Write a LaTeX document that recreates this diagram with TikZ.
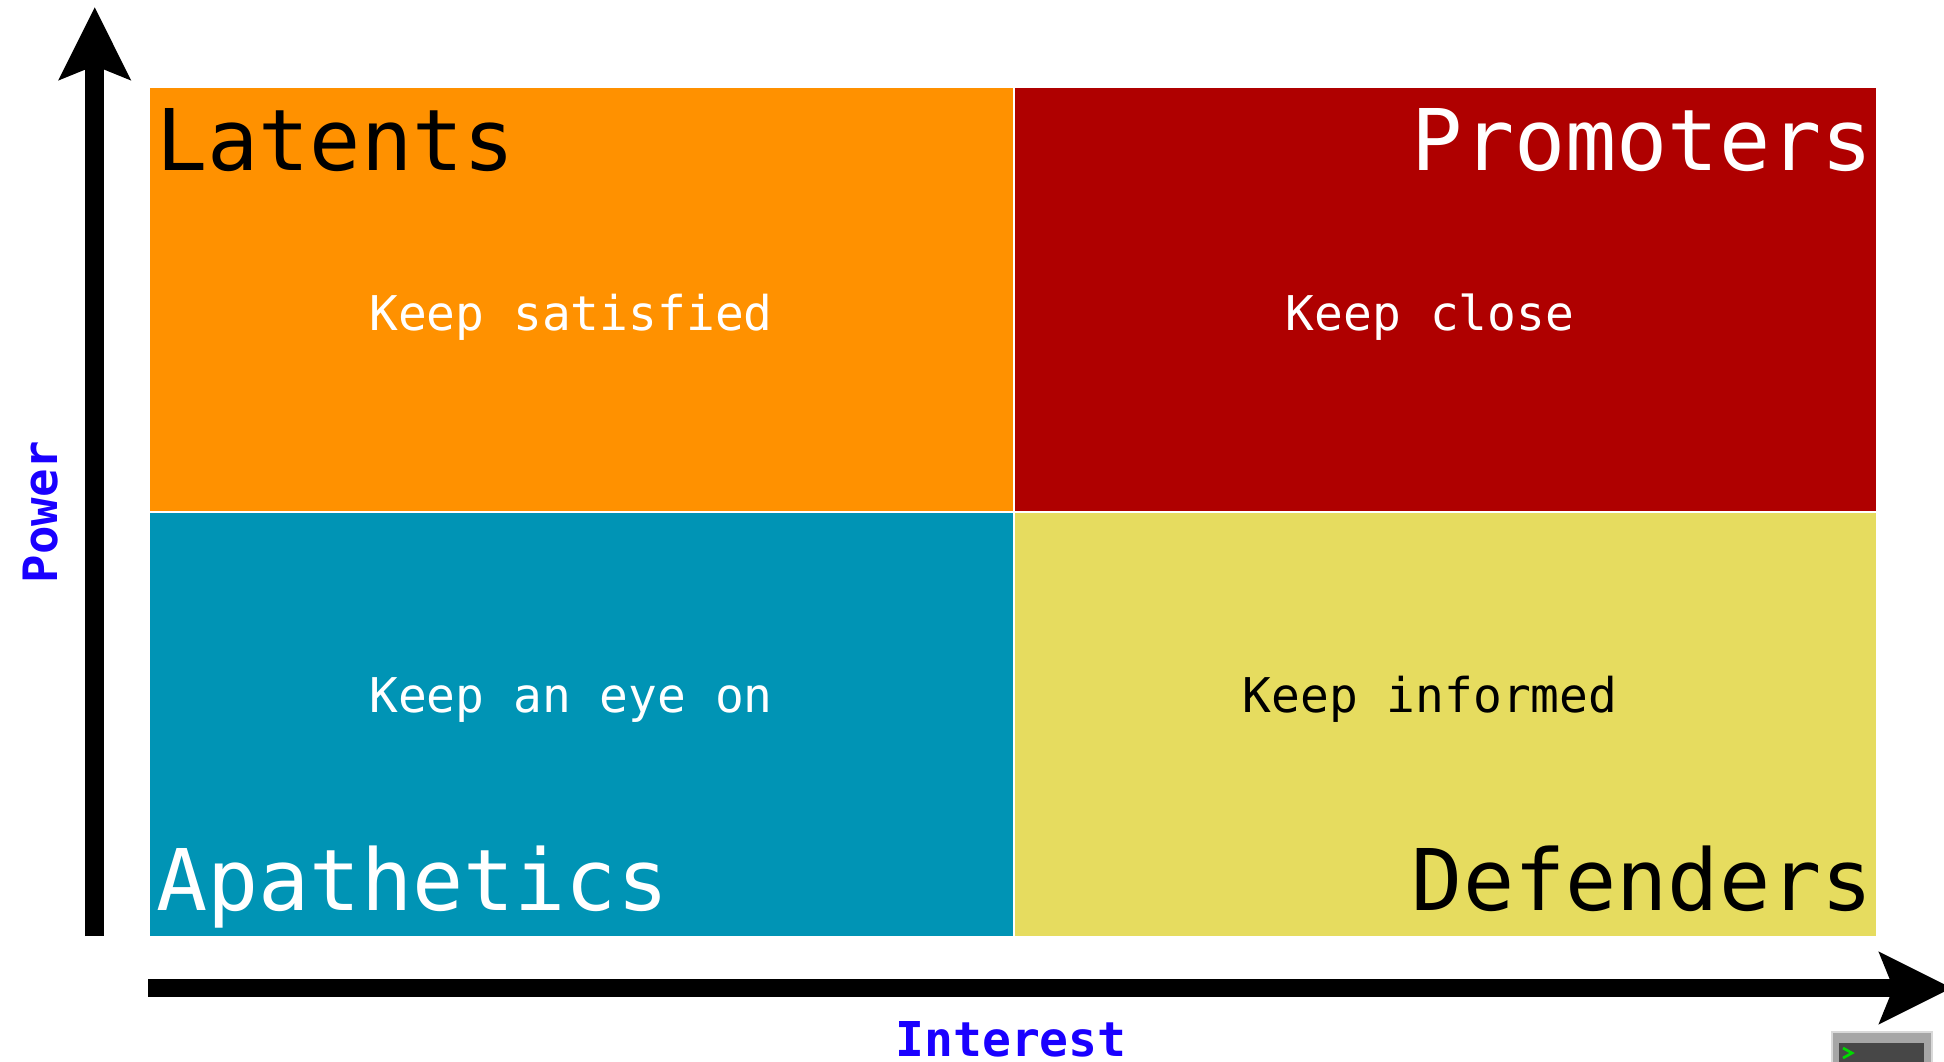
\documentclass[tikz,border=0pt]{standalone}
\usepackage{fontspec}
\setmonofont{DejaVu Sans Mono}
\usetikzlibrary{arrows.meta}
\definecolor{qorange}{HTML}{FF9100}
\definecolor{qred}{HTML}{AF0000}
\definecolor{qteal}{HTML}{0094B5}
\definecolor{qyellow}{HTML}{E6DC5F}
\definecolor{axisblue}{HTML}{1A00FF}
\tikzset{
  quad/.style={draw=white,line width=1.5pt,inner sep=0pt,minimum width=649.5pt,minimum height=319pt,anchor=north west},
  quadright/.style={quad,minimum width=647.5pt},
  bigtext/.style={inner sep=0pt,font=\ttfamily\fontsize{63.8}{64}\selectfont},
  bodytext/.style={inner sep=0pt,anchor=base,font=\ttfamily\fontsize{35.9}{36}\selectfont},
  axislabel/.style={inner sep=0pt,anchor=base,text=axisblue,font=\ttfamily\bfseries\fontsize{36}{36}\selectfont},
  axisline/.style={line width=14pt,-{Stealth[length=54pt,width=52.5pt,inset=10pt]}}
}
\begin{document}
\begin{tikzpicture}[x=0.75pt,y=-0.75pt]
\useasboundingbox (0,0) rectangle (1944,1061);
\fill[white] (0,0) rectangle (1944,1061);
% quadrants
\node[quad,fill=qorange] (latents) at (147.5,86) {};
\node[quadright,fill=qred] (promoters) at (1013,86) {};
\node[quad,fill=qteal] (apathetics) at (147.5,511) {};
\node[quadright,fill=qyellow] (defenders) at (1013,511) {};
% titles
\node[bigtext,anchor=base west,text=black] (tl) at (156,170) {Latents};
\node[bigtext,anchor=base east,text=white] (tp) at (1873,170) {Promoters};
\node[bigtext,anchor=base west,text=white] (ta) at (156,910) {Apathetics};
\node[bigtext,anchor=base east,text=black] (td) at (1873,910) {Defenders};
% bodies
\node[bodytext,text=white] (b1) at (571,330) {Keep satisfied};
\node[bodytext,text=white] (b2) at (1430,330) {Keep close};
\node[bodytext,text=white] (b3) at (571,712) {Keep an eye on};
\node[bodytext,text=black] (b4) at (1430,712) {Keep informed};
% axes
\coordinate (yfrom) at (94.7,936);
\coordinate (yto) at (94.7,7);
\coordinate (xfrom) at (148,988);
\coordinate (xto) at (1952,988);
\draw[axisline] (yfrom) -- (yto);
\draw[axisline] (xfrom) -- (xto);
\node[axislabel] (interest) at (1011,1056) {Interest};
\node[axislabel,rotate=90,font=\ttfamily\bfseries\fontsize{35.5}{36}\selectfont] (power) at (57,512) {Power};
% terminal icon (cut off by the lower edge)
\begin{scope}
\clip (0,0) rectangle (1944,1061);
\fill[black!35,draw=black!15,line width=1pt] (1832,1032) rectangle (1932,1075);
\fill[black!72] (1839,1043) rectangle (1924,1075);
\draw[green!85!black,line width=2pt] (1843,1048) -- (1852,1053) -- (1843,1058);
\end{scope}
\end{tikzpicture}
\end{document}
